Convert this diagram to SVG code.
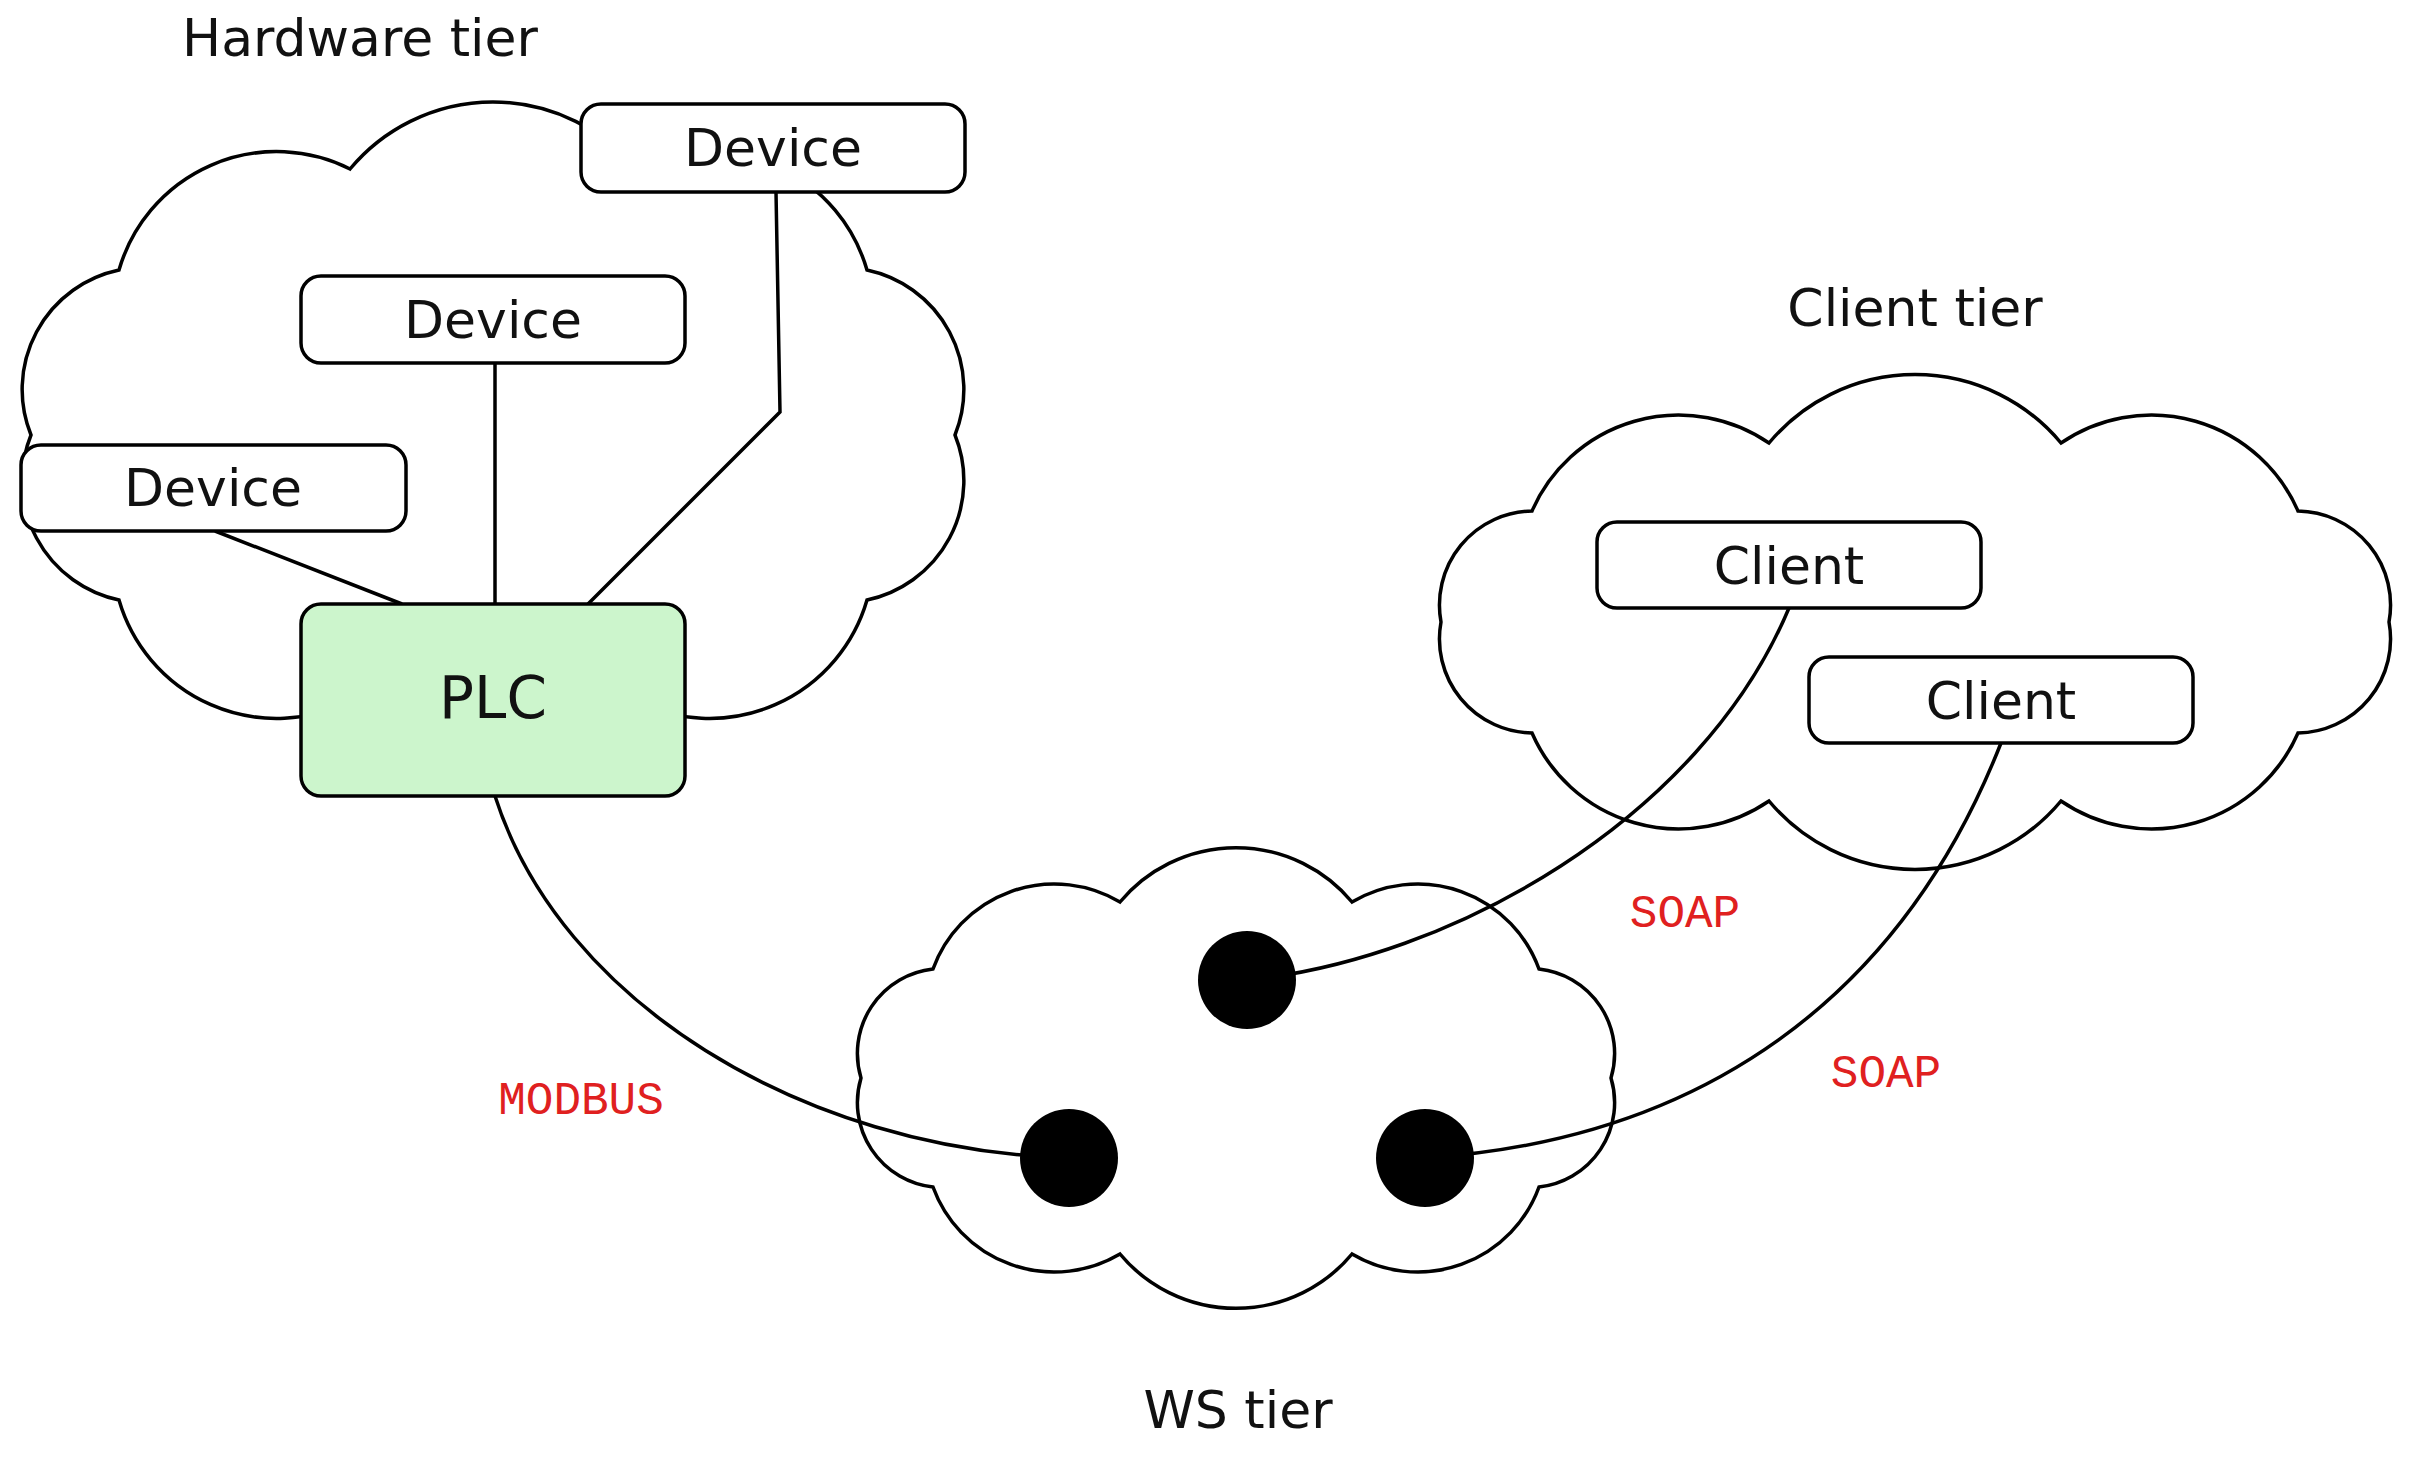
<svg xmlns="http://www.w3.org/2000/svg" width="2409" height="1457" viewBox="0 0 2409 1457">
<style>
.cloud{fill:none;stroke:#000;stroke-width:3.5}
.box{fill:#fff;stroke:#000;stroke-width:3.5}
.plc{fill:#ccf5cc;stroke:#000;stroke-width:3.5}
.t{font-family:"DejaVu Sans",sans-serif;font-size:52px;text-anchor:middle;fill:#111}
.r{font-family:"Liberation Mono",monospace;font-size:46px;text-anchor:middle;fill:#e02020}
.c{fill:none;stroke:#000;stroke-width:3.5}
</style>
<rect width="2409" height="1457" fill="#fff"/>
<g id="clouds">
<path id="hw-cloud" class="cloud" d="M955,435 A122,122 0 0 1 867,600 A164,164 0 0 1 636,701 A186,186 0 0 1 350,701 A164,164 0 0 1 119,600 A122,122 0 0 1 31,435 A122,122 0 0 1 119,270 A164,164 0 0 1 350,169 A186,186 0 0 1 636,169 A164,164 0 0 1 867,270 A122,122 0 0 1 955,435 Z"/>
<path id="client-cloud" class="cloud" d="M2389,622 A94,94 0 0 1 2298,733 A160,160 0 0 1 2061,801 A190,190 0 0 1 1769,801 A160,160 0 0 1 1532,733 A94,94 0 0 1 1441,622 A94,94 0 0 1 1532,511 A160,160 0 0 1 1769,443 A190,190 0 0 1 2061,443 A160,160 0 0 1 2298,511 A94,94 0 0 1 2389,622 Z"/>
<path id="ws-cloud" class="cloud" d="M1611,1078 A85,85 0 0 1 1539,1187 A129,129 0 0 1 1352,1254 A151,151 0 0 1 1120,1254 A129,129 0 0 1 933,1187 A85,85 0 0 1 861,1078 A85,85 0 0 1 933,969 A129,129 0 0 1 1120,902 A151,151 0 0 1 1352,902 A129,129 0 0 1 1539,969 A85,85 0 0 1 1611,1078 Z"/>
</g>
<g id="connectors">
<path class="c" d="M215,531 L402,604"/>
<path class="c" d="M495,363 L495,604"/>
<path class="c" d="M776,192 L780,412 L588,604"/>
<path class="c" d="M495,796 C560,1000 800,1150 1069,1158"/>
<path class="c" d="M1789,608 C1700,820 1450,960 1247,980"/>
<path class="c" d="M2001,743 C1900,1000 1700,1140 1425,1158"/>
</g>
<g id="labels">
<text class="t" x="360" y="56">Hardware tier</text>
<text class="t" x="1915" y="326">Client tier</text>
<text class="t" x="1238" y="1428">WS tier</text>
<text class="r" x="581" y="1114">MODBUS</text>
<text class="r" x="1685" y="927">SOAP</text>
<text class="r" x="1886" y="1087">SOAP</text>
</g>
<g id="device1"><rect class="box" x="581" y="104" width="384" height="88" rx="20"/><text class="t" x="773" y="166">Device</text></g>
<g id="device2"><rect class="box" x="301" y="276" width="384" height="87" rx="20"/><text class="t" x="493" y="338">Device</text></g>
<g id="device3"><rect class="box" x="21" y="445" width="385" height="86" rx="20"/><text class="t" x="213" y="506">Device</text></g>
<g id="plc"><rect class="plc" x="301" y="604" width="384" height="192" rx="20"/><text class="t" x="493" y="718" style="font-size:58px">PLC</text></g>
<g id="client1"><rect class="box" x="1597" y="522" width="384" height="86" rx="20"/><text class="t" x="1789" y="584">Client</text></g>
<g id="client2"><rect class="box" x="1809" y="657" width="384" height="86" rx="20"/><text class="t" x="2001" y="719">Client</text></g>
<g id="ws-nodes">
<circle cx="1247" cy="980" r="49"/>
<circle cx="1069" cy="1158" r="49"/>
<circle cx="1425" cy="1158" r="49"/>
</g>
</svg>
